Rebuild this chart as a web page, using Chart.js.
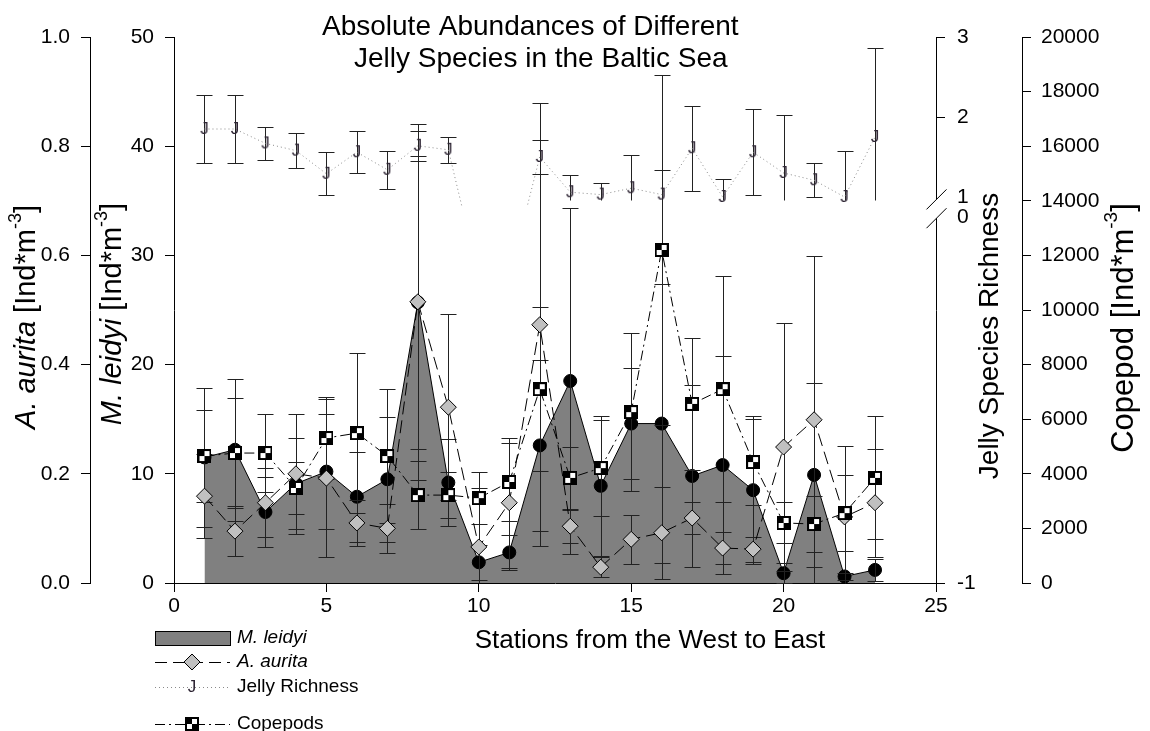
<!DOCTYPE html>
<html>
<head>
<meta charset="utf-8">
<title>Absolute Abundances of Different Jelly Species in the Baltic Sea</title>
<script src="https://cdn.jsdelivr.net/npm/chart.js@4.4.1/dist/chart.umd.min.js"></script>
<style>
  html, body { margin: 0; padding: 0; background: #ffffff; }
  #wrap { width: 1150px; height: 731px; position: relative; }
</style>
</head>
<body>
<div id="wrap"><canvas id="chart" width="1150" height="731"></canvas></div>
<script>
// ============================================================
// DATA, stations 1..23
// ============================================================
const stations = [1, 2, 3, 4, 5, 6, 7, 8, 9, 10, 11, 12, 13, 14, 15, 16, 17, 18, 19, 20, 21, 22, 23];

// M. leidyi [Ind*m-3] (left inner axis)
const mLeidyi   = [11.5, 12.2, 6.5, 9.1, 10.2, 7.9, 9.5, 25.7, 9.2, 1.9, 2.8, 12.6, 18.5, 8.9, 14.6, 14.6, 9.8, 10.8, 8.5, 0.9, 9.9, 0.6, 1.2];
const mLeidyiSd = [6.4, 6.5, 3.2, 4.2, 5.3, 4.1, 5.7, 13.4, 4.0, 1.6, 1.6, 7.8, 15.8, 6.4, 5.1, 12.8, 8.3, 10.0, 6.8, 0.9, 8.4, 0.3, 1.0];

// A. aurita [Ind*m-3] (left outer axis)
const aAurita   = [0.159, 0.095, 0.147, 0.200, 0.192, 0.110, 0.100, 0.515, 0.322, 0.066, 0.147, 0.473, 0.104, 0.029, 0.080, 0.092, 0.119, 0.064, 0.062, 0.249, 0.299, 0.121, 0.147];
const aAuritaSd = [0.077, 0.046, 0.063, 0.110, 0.145, 0.042, 0.045, 0.326, 0.170, 0.108, 0.119, 0.406, 0.030, 0.018, 0.045, 0.084, 0.030, 0.030, 0.023, 0.227, 0.300, 0.130, 0.099];

// Copepod [Ind*m-3] (right outer axis)
const copepod   = [4650, 4760, 4760, 3480, 5310, 5490, 4650, 3220, 3220, 3110, 3700, 7100, 3850, 4210, 6260, 12200, 6560, 7100, 4430, 2200, 2160, 2560, 3850];
const copepodSd = [1700, 2000, 1430, 960, 1500, 2930, 2450, 1240, 840, 950, 1430, 3000, 1150, 1760, 2890, 6400, 2420, 4150, 1570, 750, 1030, 1390, 2250];

// Jelly species richness (right inner axis, broken between 0 and 1)
const richness   = [1.85, 1.85, 1.67, 1.58, 1.29, 1.56, 1.34, 1.64, 1.59, 0, 0, 1.50, 1.06, 1.03, 1.11, 1.03, 1.61, 1.00, 1.56, 1.30, 1.21, 1.00, 1.75];
const richnessSd = [0.43, 0.43, 0.21, 0.22, 0.27, 0.26, 0.24, 0.19, 0.16, 0, 0, 0.21, 0.21, 0.15, 0.42, 0.31, 0.53, 0.22, 0.54, 0.72, 0.21, 0.58, 1.11];

// tick labels
const stationTicks  = [0, 5, 10, 15, 20, 25];
const leidyiTicks   = [0, 10, 20, 30, 40, 50];
const auritaTicks   = [0, 0.2, 0.4, 0.6, 0.8, 1.0];
const copepodTicks  = [0, 2000, 4000, 6000, 8000, 10000, 12000, 14000, 16000, 18000, 20000];
const richnessTickLabels = ['-1', '0', '1', '2', '3'];
// where those labels sit on the compressed (broken) richness scale
const richnessTickPos    = [-3.825, 0.75, 1, 2, 3];
const richnessBreak = 0.96;   // lower part of the broken axis is hidden

// ============================================================
// STYLE
// ============================================================
const FONT = "'Liberation Sans', Arial, Helvetica, sans-serif";
Chart.defaults.font.family = FONT;
Chart.defaults.font.size = 21;
Chart.defaults.color = '#000000';

// checkered square symbol for copepods
const squareImg = (() => {
  const c = document.createElement('canvas');
  c.width = 14; c.height = 14;
  const g = c.getContext('2d');
  g.fillStyle = '#000'; g.fillRect(0, 0, 14, 14);
  g.fillStyle = '#fff'; g.fillRect(7, 2, 5, 5); g.fillRect(2, 7, 5, 5);
  return c;
})();

// "J" symbol for jelly richness
const jImg = (() => {
  const c = document.createElement('canvas');
  c.width = 12; c.height = 20;
  const g = c.getContext('2d');
  g.fillStyle = '#2d2433';
  g.font = '17px ' + FONT;
  g.textAlign = 'center';
  g.textBaseline = 'middle';
  g.fillText('J', 6, 10);
  return c;
})();

const toXY = vals => stations.map((s, i) => ({ x: s, y: vals[i] }));

function axis(extra) {
  return Object.assign({
    type: 'linear',
    grid: { display: true, drawOnChartArea: false, drawTicks: true, tickLength: 9, tickColor: '#000', tickWidth: 1 },
    border: { display: true, color: '#000', width: 1 },
    ticks: { color: '#000', font: { size: 21 }, padding: 11, autoSkip: false },
    title: { display: false },
  }, extra);
}

// ============================================================
// PLUGINS — error bars, axis break, titles, legend
// ============================================================
const errorSeries = [
  { values: mLeidyi, sd: mLeidyiSd, axis: 'yL', floor: 0 },
  { values: aAurita, sd: aAuritaSd, axis: 'yA', floor: 0 },
  { values: copepod, sd: copepodSd, axis: 'yC', floor: 0 },
  { values: richness, sd: richnessSd, axis: 'yR', floor: richnessBreak },
];

const errorBars = {
  id: 'errorBars',
  afterDatasetDraw(chart, args) {
    if (args.index !== 0) return; // right after the M. leidyi area
    const ctx = chart.ctx;
    const xs = chart.scales.x;
    ctx.save();
    ctx.strokeStyle = '#222222';
    ctx.lineWidth = 1;
    errorSeries.forEach(s => {
      const ys = chart.scales[s.axis];
      s.values.forEach((v, i) => {
        if (v < s.floor || !s.sd[i]) return;
        let hi = v + s.sd[i], lo = v - s.sd[i];
        let capHi = true, capLo = true;
        if (lo < s.floor) { lo = s.floor; capLo = false; }
        if (hi > ys.max) { hi = ys.max; capHi = false; }
        const x = Math.round(xs.getPixelForValue(stations[i])) + 0.5;
        const yHi = Math.round(ys.getPixelForValue(hi)) + 0.5;
        const yLo = Math.round(ys.getPixelForValue(lo)) + 0.5;
        ctx.beginPath();
        ctx.moveTo(x, yHi); ctx.lineTo(x, yLo);
        if (capHi) { ctx.moveTo(x - 8, yHi); ctx.lineTo(x + 8, yHi); }
        if (capLo) { ctx.moveTo(x - 8, yLo); ctx.lineTo(x + 8, yLo); }
        ctx.stroke();
      });
    });
    ctx.restore();
  }
};

function drawMixed(ctx, parts, cx, cy, size, rotate) {
  ctx.save();
  ctx.translate(cx, cy);
  if (rotate) ctx.rotate(-Math.PI / 2);
  ctx.textBaseline = 'middle';
  ctx.textAlign = 'left';
  ctx.fillStyle = '#000';
  const fontOf = p => (p.it ? 'italic ' : '') + Math.round(p.sup ? size * 0.62 : size) + 'px ' + FONT;
  let total = 0;
  parts.forEach(p => { ctx.font = fontOf(p); total += ctx.measureText(p.t).width; });
  let x = -total / 2;
  parts.forEach(p => {
    ctx.font = fontOf(p);
    ctx.fillText(p.t, x, p.sup ? -size * 0.38 : 0);
    x += ctx.measureText(p.t).width;
  });
  ctx.restore();
}

const decorations = {
  id: 'decorations',
  afterDraw(chart) {
    const ctx = chart.ctx;
    const yR = chart.scales.yR;

    // axis break on the richness axis
    const ax = Math.round(yR.left) + 0.5;
    const b1 = yR.getPixelForValue(0.97), b2 = yR.getPixelForValue(0.735);
    ctx.save();
    ctx.fillStyle = '#fff';
    ctx.fillRect(ax - 3, b1, 6, b2 - b1);
    ctx.strokeStyle = '#000';
    ctx.lineWidth = 1;
    ctx.beginPath();
    [b1, b2].forEach(yc => { ctx.moveTo(ax - 10, yc + 10); ctx.lineTo(ax + 10, yc - 10); });
    ctx.stroke();
    ctx.restore();

    // chart title
    ctx.save();
    ctx.fillStyle = '#000';
    ctx.font = '28px ' + FONT;
    ctx.textBaseline = 'alphabetic';
    ctx.textAlign = 'left';
    ctx.fillText('Absolute Abundances of Different', 322, 35);
    ctx.fillText('Jelly Species in the Baltic Sea', 354, 67);
    ctx.restore();

    // axis titles
    drawMixed(ctx, [{ t: 'A. aurita', it: true }, { t: ' [Ind*m' }, { t: '-3', sup: true }, { t: ']' }], 27, 317, 29, true);
    drawMixed(ctx, [{ t: 'M. leidyi', it: true }, { t: ' [Ind*m' }, { t: '-3', sup: true }, { t: ']' }], 113, 314, 29, true);
    drawMixed(ctx, [{ t: 'Jelly Species Richness' }], 990, 336, 28, true);
    drawMixed(ctx, [{ t: 'Copepod [Ind*m' }, { t: '-3', sup: true }, { t: ']' }], 1124, 328, 31, true);
    drawMixed(ctx, [{ t: 'Stations from the West to East' }], 650, 641, 26, false);

    // legend
    const x0 = 155, x1 = 230, xm = 192, tx = 237;
    const rows = [638, 662, 687, 724];
    ctx.save();
    ctx.lineWidth = 1;
    ctx.strokeStyle = '#000';
    // M. leidyi
    ctx.fillStyle = '#808080';
    ctx.fillRect(x0, rows[0] - 7, x1 - x0, 15);
    ctx.strokeRect(x0 + 0.5, rows[0] - 6.5, x1 - x0, 14);
    // A. aurita
    ctx.setLineDash([12, 6]);
    ctx.beginPath(); ctx.moveTo(x0, rows[1] + 0.5); ctx.lineTo(x1, rows[1] + 0.5); ctx.stroke();
    ctx.setLineDash([]);
    ctx.fillStyle = '#c0c0c0';
    ctx.beginPath();
    ctx.moveTo(xm, rows[1] - 8); ctx.lineTo(xm + 8, rows[1]); ctx.lineTo(xm, rows[1] + 8); ctx.lineTo(xm - 8, rows[1]); ctx.closePath();
    ctx.fill(); ctx.stroke();
    // richness
    ctx.strokeStyle = '#8a8a8a';
    ctx.setLineDash([1, 3]);
    ctx.beginPath(); ctx.moveTo(x0, rows[2] + 0.5); ctx.lineTo(x1, rows[2] + 0.5); ctx.stroke();
    ctx.setLineDash([]);
    ctx.drawImage(jImg, xm - jImg.width / 2, rows[2] - jImg.height / 2);
    // copepods
    ctx.strokeStyle = '#000';
    ctx.setLineDash([10, 4, 2, 4]);
    ctx.beginPath(); ctx.moveTo(x0, rows[3] + 0.5); ctx.lineTo(x1, rows[3] + 0.5); ctx.stroke();
    ctx.setLineDash([]);
    ctx.drawImage(squareImg, xm - 7, rows[3] - 7);
    ctx.restore();

    drawLegendText(ctx, tx, rows);
  }
};

function drawLegendText(ctx, tx, rows) {
  ctx.save();
  ctx.fillStyle = '#000';
  ctx.textBaseline = 'middle';
  ctx.textAlign = 'left';
  ctx.font = 'italic 19px ' + FONT;
  ctx.fillText('M. leidyi', tx, rows[0]);
  ctx.fillText('A. aurita', tx, rows[1]);
  ctx.font = '19px ' + FONT;
  ctx.fillText('Jelly Richness', tx, rows[2]);
  ctx.fillText('Copepods', tx, rows[3]);
  ctx.restore();
}

// ============================================================
// CHART
// ============================================================
new Chart(document.getElementById('chart').getContext('2d'), {
  type: 'line',
  data: {
    datasets: [
      {
        label: 'M. leidyi',
        data: toXY(mLeidyi),
        yAxisID: 'yL',
        borderColor: '#000', borderWidth: 1,
        backgroundColor: '#808080',
        fill: 'origin',
        tension: 0,
        pointStyle: 'circle', pointRadius: 6.5,
        pointBackgroundColor: '#000', pointBorderColor: '#000', pointBorderWidth: 1,
        order: 4,
      },
      {
        label: 'A. aurita',
        data: toXY(aAurita),
        yAxisID: 'yA',
        borderColor: '#000', borderWidth: 1, borderDash: [13, 6],
        fill: false,
        tension: 0,
        pointStyle: 'rectRot', pointRadius: 8,
        pointBackgroundColor: '#c0c0c0', pointBorderColor: '#000', pointBorderWidth: 1,
        order: 3,
      },
      {
        label: 'Copepods',
        data: toXY(copepod),
        yAxisID: 'yC',
        borderColor: '#000', borderWidth: 1, borderDash: [10, 4, 2, 4],
        fill: false,
        tension: 0,
        pointStyle: squareImg,
        order: 2,
      },
      {
        label: 'Jelly Richness',
        data: toXY(richness),
        yAxisID: 'yR',
        borderColor: '#8a8a8a', borderWidth: 1, borderDash: [1, 3],
        fill: false,
        tension: 0,
        pointStyle: jImg,
        clip: { left: 20, right: 20, top: 20, bottom: -377 },
        order: 1,
      },
    ]
  },
  options: {
    responsive: false,
    animation: false,
    layout: { padding: { top: 37, left: 0, right: 0, bottom: 0 } },
    plugins: {
      legend: { display: false },
      tooltip: { enabled: false },
    },
    scales: {
      x: axis({
        position: 'bottom', min: 0, max: 25,
        afterBuildTicks: s => { s.ticks = stationTicks.map(v => ({ value: v })); },
        afterFit: s => { s.height = 148; },
        ticks: { color: '#000', font: { size: 21 }, padding: 2, autoSkip: false, maxRotation: 0 },
      }),
      yL: axis({
        position: 'left', min: 0, max: 50, weight: 0,
        afterBuildTicks: s => { s.ticks = leidyiTicks.map(v => ({ value: v })); },
        afterFit: s => { s.width = 84; },
      }),
      yA: axis({
        position: 'left', min: 0, max: 1, weight: 1,
        afterBuildTicks: s => { s.ticks = auritaTicks.map(v => ({ value: v })); },
        afterFit: s => { s.width = 90; },
        ticks: { color: '#000', font: { size: 21 }, padding: 11, autoSkip: false, callback: v => Number(v).toFixed(1) },
      }),
      yR: axis({
        position: 'right', min: richnessTickPos[0], max: 3, weight: 0,
        afterBuildTicks: s => { s.ticks = richnessTickPos.map(v => ({ value: v })); },
        afterFit: s => { s.width = 86; },
        grid: {
          display: true, drawOnChartArea: false, drawTicks: true, tickLength: 9, tickWidth: 1,
          tickColor: c => (c.tick && (c.tick.value === 1 || c.tick.value === 0.75)) ? 'rgba(0,0,0,0)' : '#000',
        },
        ticks: {
          color: '#000', font: { size: 21 }, padding: 12, autoSkip: false,
          callback: v => richnessTickLabels[richnessTickPos.indexOf(v)],
        },
      }),
      yC: axis({
        position: 'right', min: 0, max: 20000, weight: 1,
        afterBuildTicks: s => { s.ticks = copepodTicks.map(v => ({ value: v })); },
        afterFit: s => { s.width = 128; },
        ticks: { color: '#000', font: { size: 21 }, padding: 10, autoSkip: false, callback: v => String(v) },
      }),
    }
  },
  plugins: [errorBars, decorations]
});
</script>
</body>
</html>
